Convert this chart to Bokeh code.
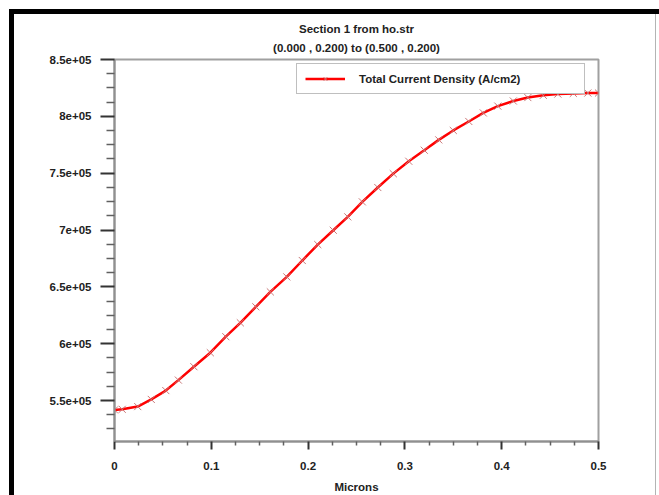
from bokeh.plotting import figure
from bokeh.models import Range1d, FixedTicker, Title, Legend, LegendItem
from bokeh.embed import file_html
from bokeh.resources import INLINE

# ---- data ----
x_microns = [0.0, 0.008, 0.024, 0.038, 0.053, 0.066, 0.082, 0.099, 0.115,
             0.130, 0.146, 0.161, 0.178, 0.194, 0.210, 0.226, 0.241, 0.256,
             0.272, 0.288, 0.304, 0.320, 0.335, 0.350, 0.366, 0.381, 0.396,
             0.412, 0.427, 0.443, 0.458, 0.474, 0.489, 0.500]
current_density = [541800, 542300, 544700, 551000, 558800, 568000, 579800,
                   592100, 606200, 618400, 632500, 645600, 658800, 673200,
                   687200, 699800, 711600, 724800, 737400, 749600, 760500,
                   770200, 779300, 787600, 795500, 803000, 809000, 813500,
                   816500, 818500, 819600, 820200, 820500, 820500]

x_tick_values = [0, 0.1, 0.2, 0.3, 0.4, 0.5]
x_minor_ticks = [0.025, 0.05, 0.075, 0.125, 0.15, 0.175, 0.225, 0.25, 0.275,
                 0.325, 0.35, 0.375, 0.425, 0.45, 0.475]
y_tick_values = [550000, 600000, 650000, 700000, 750000, 800000, 850000]
y_tick_labels = ["5.5e+05", "6e+05", "6.5e+05", "7e+05", "7.5e+05", "8e+05", "8.5e+05"]
y_minor_ticks = [525000, 537500, 562500, 575000, 587500, 612500, 625000,
                 637500, 662500, 675000, 687500, 712500, 725000, 737500,
                 762500, 775000, 787500, 812500, 825000, 837500]

title_line1 = "Section 1 from ho.str"
title_line2 = "(0.000 , 0.200) to (0.500 , 0.200)"
x_label = "Microns"
series_label = "Total Current Density (A/cm2)"

FONT = "Liberation Sans"
FS = "11.5px"

p = figure(width=659, height=495, output_backend="svg", toolbar_location=None,
           x_range=Range1d(0, 0.5), y_range=Range1d(514000, 850000),
           min_border_left=114, min_border_right=61, min_border_top=59,
           min_border_bottom=53)

p.background_fill_color = "white"
p.border_fill_color = "white"
p.border_fill_alpha = 0
# outer window frame painted behind the (transparent) border area
p.styles = {
    "background": (
        "linear-gradient(#000,#000) 9px 9px / 5px 486px no-repeat, "
        "linear-gradient(#000,#000) 9px 9px / 650px 5px no-repeat, "
        "linear-gradient(#b4b4b4,#b4b4b4) 655px 14px / 1px 481px no-repeat, "
        "#ffffff"
    )
}
p.outline_line_color = "#a0a0a0"
p.outline_line_width = 2
p.xgrid.visible = False
p.ygrid.visible = False

# titles (first added sits next to the frame)
p.add_layout(Title(text=" ", text_font=FONT, text_font_size="2px",
                   standoff=0), "above")
p.add_layout(Title(text=title_line2, align="center", text_font=FONT,
                   text_font_size=FS, text_font_style="bold",
                   text_color="#222222", standoff=4), "above")
p.title.text = title_line1
p.title.align = "center"
p.title.text_font = FONT
p.title.text_font_size = FS
p.title.text_font_style = "bold"
p.title.text_color = "#222222"
p.title.standoff = 6

# axes
for ax in (p.xaxis[0], p.yaxis[0]):
    ax.axis_line_color = "#909090"
    ax.axis_line_width = 2
    ax.major_tick_in = 0
    ax.minor_tick_in = 0
    ax.major_tick_line_color = "#333333"
    ax.major_tick_line_width = 2
    ax.minor_tick_line_color = "#606060"
    ax.minor_tick_line_width = 1.5
    ax.major_label_text_font = FONT
    ax.major_label_text_font_size = FS
    ax.major_label_text_font_style = "bold"
    ax.major_label_text_color = "#222222"

p.xaxis.ticker = FixedTicker(ticks=x_tick_values, minor_ticks=x_minor_ticks)
p.xaxis.major_tick_out = 8
p.xaxis.minor_tick_out = 4
p.xaxis.major_label_standoff = 12
p.xaxis.axis_label = x_label
p.xaxis.axis_label_text_font = FONT
p.xaxis.axis_label_text_font_size = FS
p.xaxis.axis_label_text_font_style = "bold"
p.xaxis.axis_label_text_color = "#222222"
p.xaxis.axis_label_standoff = 8

p.yaxis.ticker = FixedTicker(ticks=y_tick_values, minor_ticks=y_minor_ticks)
p.yaxis.major_label_overrides = {v: s for v, s in zip(y_tick_values, y_tick_labels)}
p.yaxis.major_tick_out = 14
p.yaxis.minor_tick_out = 8
p.yaxis.major_label_standoff = 9

# data
line_r = p.line(x_microns, current_density, line_color="#ff0000", line_width=2.5)
mark_r = p.scatter(x_microns, current_density, marker="x", size=10,
                   line_color="#c87878", line_width=1)

legend = Legend(items=[LegendItem(label=series_label, renderers=[line_r, mark_r])],
                location=(182, 347), orientation="vertical")
legend.border_line_color = "#808080"
legend.border_line_width = 1.5
legend.background_fill_color = "white"
legend.background_fill_alpha = 1
legend.label_text_font = FONT
legend.label_text_font_size = FS
legend.label_text_font_style = "bold"
legend.label_text_color = "#222222"
legend.glyph_width = 40
legend.glyph_height = 13
legend.label_height = 13
legend.label_standoff = 14
legend.label_width = 217
legend.padding = 8
legend.spacing = 0
legend.margin = 0
p.add_layout(legend)

open("out.html", "w").write(file_html(p, INLINE))
